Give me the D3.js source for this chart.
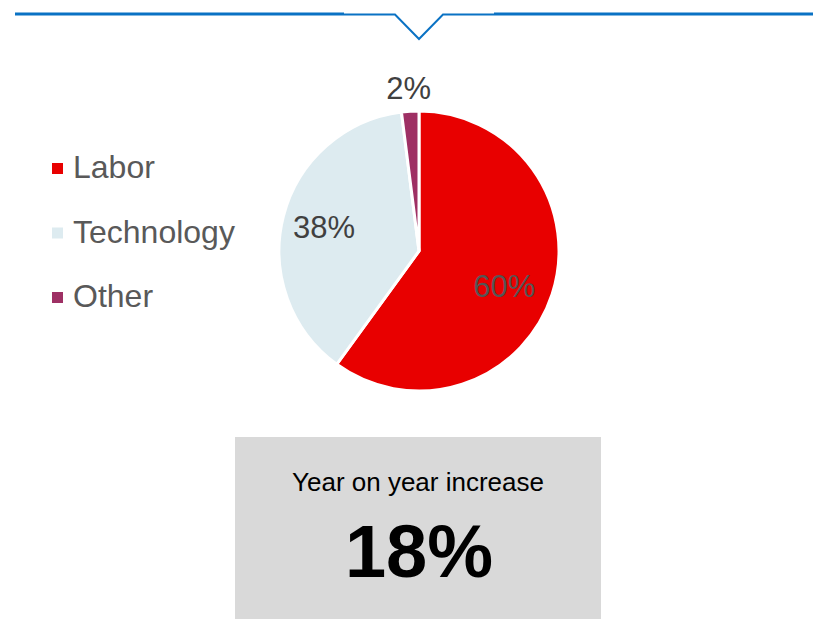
<!DOCTYPE html>
<html>
<head>
<meta charset="utf-8">
<script src="https://cdn.jsdelivr.net/npm/d3@7"></script>
<style>
  body { margin: 0; background: #fff; }
  svg { display: block; font-family: "Liberation Sans", Arial, sans-serif; }
</style>
</head>
<body>
<div class="chart"></div>
<script>
const categories = ["Labor", "Technology", "Other"];
const shares = [60, 38, 2];
const colors = ["#e80000", "#ddebf0", "#9e3064"];
const calloutTitle = "Year on year increase";
const calloutValue = "18%";

const w = 813;
const h = 619;
const cx = 419;
const cy = 251;
const r = 140;

const svg = d3
    .select(".chart")
    .append("svg")
    .attr("width", w)
    .attr("height", h);

// header rule with the notch
const rule = "#0a72c4";
svg.append("line")
    .attr("x1", 15).attr("x2", 344).attr("y1", 14).attr("y2", 14)
    .attr("stroke", rule).attr("stroke-width", 3);
svg.append("line")
    .attr("x1", 494).attr("x2", 813).attr("y1", 14).attr("y2", 14)
    .attr("stroke", rule).attr("stroke-width", 3);
svg.append("polyline")
    .attr("points", "344,14.5 395,14.5 419,39 443,14.5 494,14.5")
    .attr("fill", "none")
    .attr("stroke", rule)
    .attr("stroke-width", 2);

// pie
const pie = d3.pie().sort(null).value(d => d);
const arcs = pie(shares);
const arc = d3.arc().innerRadius(0).outerRadius(r);

const g = svg.append("g").attr("transform", `translate(${cx},${cy})`);

g.selectAll("path")
    .data(arcs)
    .enter()
    .append("path")
    .attr("d", arc)
    .attr("fill", (d, i) => colors[i])
    .attr("stroke", "#fff")
    .attr("stroke-width", 3)
    .attr("stroke-linejoin", "miter");

// label placement: radius factor and a small angular nudge per slice
const labelR = [0.66 * r, 0.7 * r, 1.17 * r];
const labelShift = [0.08, 0, 0];
const labelColor = ["#555555", "#404040", "#404040"];
const labelPos = (d, i) => {
    const a = (d.startAngle + d.endAngle) / 2 + labelShift[i];
    return [Math.sin(a) * labelR[i], -Math.cos(a) * labelR[i]];
};
g.selectAll("text")
    .data(arcs)
    .enter()
    .append("text")
    .attr("x", (d, i) => labelPos(d, i)[0])
    .attr("y", (d, i) => labelPos(d, i)[1] + 11)
    .attr("text-anchor", "middle")
    .attr("font-size", 31)
    .attr("fill", (d, i) => labelColor[i])
    .text(d => d.data + "%");

// legend
const legend = svg.append("g");
const rowY = d3.scalePoint().domain(categories).range([178, 307]);
legend.selectAll("rect")
    .data(categories)
    .enter()
    .append("rect")
    .attr("x", 52)
    .attr("y", d => rowY(d) - 15)
    .attr("width", 11)
    .attr("height", 11)
    .attr("fill", (d, i) => colors[i]);
legend.selectAll("text")
    .data(categories)
    .enter()
    .append("text")
    .attr("x", 73)
    .attr("y", d => rowY(d))
    .attr("font-size", 32)
    .attr("fill", "#595959")
    .text(d => d);

// callout box
svg.append("rect")
    .attr("x", 235).attr("y", 437)
    .attr("width", 366).attr("height", 190)
    .attr("fill", "#d9d9d9");
svg.append("text")
    .attr("x", 418).attr("y", 491)
    .attr("text-anchor", "middle")
    .attr("font-size", 26)
    .attr("fill", "#000")
    .text(calloutTitle);
svg.append("text")
    .attr("x", 419).attr("y", 577)
    .attr("text-anchor", "middle")
    .attr("font-size", 74)
    .attr("font-weight", "bold")
    .attr("fill", "#000")
    .text(calloutValue);
</script>
</body>
</html>
